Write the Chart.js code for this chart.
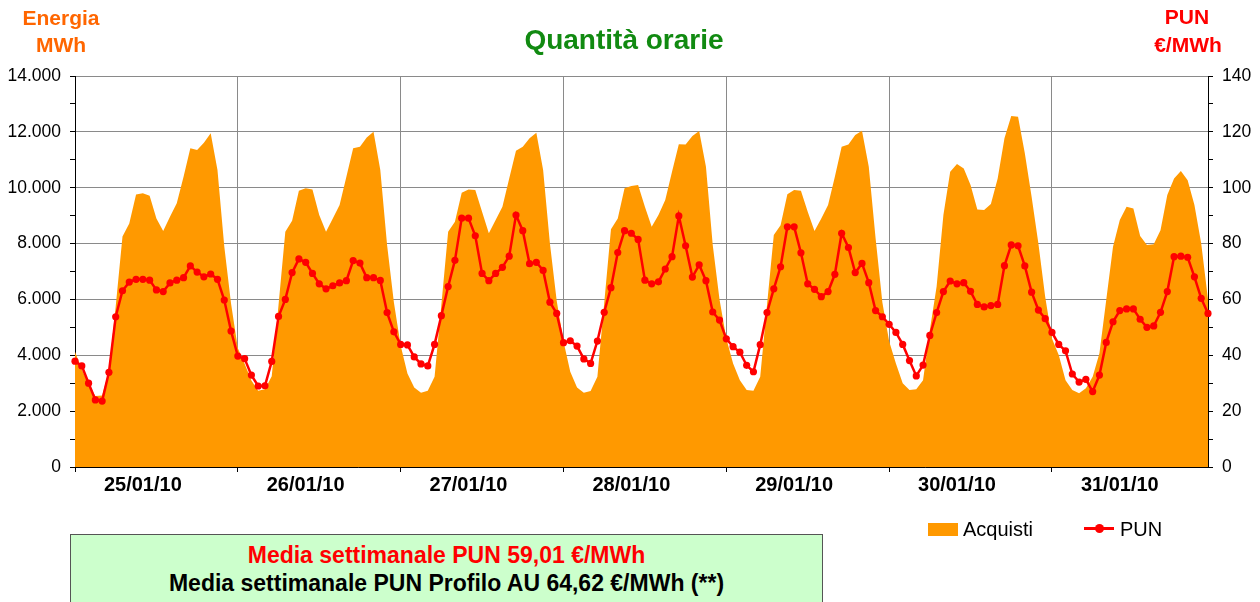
<!DOCTYPE html>
<html>
<head>
<meta charset="utf-8">
<script src="https://cdn.jsdelivr.net/npm/chart.js@4"></script>
<style>
  html, body { margin: 0; padding: 0; background: #fff; }
  #wrap { position: relative; width: 1260px; height: 602px; overflow: hidden; font-family: "Liberation Sans", Arial, sans-serif; }
  canvas { position: absolute; left: 0; top: 0; }
  .t { position: absolute; white-space: nowrap; line-height: 1; }
</style>
</head>
<body>
<div id="wrap">
  <canvas id="c" width="1260" height="602"></canvas>
  <div class="t" style="left:424px;width:400px;top:26px;text-align:center;font-size:28px;font-weight:bold;color:#118A11;">Quantità orarie</div>
  <div class="t" style="left:0;width:122px;top:7px;text-align:center;font-size:21px;font-weight:bold;color:#FF6600;">Energia</div>
  <div class="t" style="left:0;width:122px;top:34px;text-align:center;font-size:21px;font-weight:bold;color:#FF6600;">MWh</div>
  <div class="t" style="left:1127px;width:120px;top:6px;text-align:center;font-size:21px;font-weight:bold;color:#FF0000;">PUN</div>
  <div class="t" style="left:1128px;width:120px;top:34px;text-align:center;font-size:21px;font-weight:bold;color:#FF0000;">€/MWh</div>
  <!-- legend -->
  <div style="position:absolute;left:928px;top:523px;width:30px;height:13px;background:#FF9900;"></div>
  <div class="t" style="left:963px;top:519px;font-size:20px;color:#000;">Acquisti</div>
  <div style="position:absolute;left:1084px;top:527px;width:30px;height:3px;background:#FF0000;"></div>
  <div style="position:absolute;left:1095px;top:524px;width:9px;height:9px;border-radius:50%;background:#FF0000;"></div>
  <div class="t" style="left:1120px;top:519px;font-size:20px;color:#000;">PUN</div>
  <!-- green box -->
  <div style="position:absolute;left:70px;top:534px;width:751px;height:90px;background:#CCFFCC;border:1px solid #555;"></div>
  <div class="t" style="left:70px;width:753px;top:544px;text-align:center;font-size:23px;font-weight:bold;color:#FF0000;">Media settimanale PUN 59,01 €/MWh</div>
  <div class="t" style="left:70px;width:753px;top:572px;text-align:center;font-size:23px;font-weight:bold;color:#000;">Media settimanale PUN Profilo AU 64,62 €/MWh (**)</div>
</div>
<script>
// ---- data ----
const days = ['25/01/10', '26/01/10', '27/01/10', '28/01/10', '29/01/10', '30/01/10', '31/01/10'];
const hours = [1,2,3,4,5,6,7,8,9,10,11,12,13,14,15,16,17,18,19,20,21,22,23,24];

// Acquisti (MWh), hourly, day by day
const acquisti = [
  4130, 3500, 2950, 2540, 2560, 3450, 5750, 8250, 8720, 9760, 9800, 9710, 8900, 8450, 8960, 9440, 10390, 11410, 11350, 11610, 11950, 10630, 7900, 5850,
  4250, 3700, 3100, 2730, 2780, 3250, 5800, 8420, 8820, 9890, 9980, 9940, 9020, 8420, 8900, 9380, 10390, 11410, 11470, 11800, 12000, 10630, 7950, 5900,
  4350, 3350, 2850, 2660, 2730, 3230, 5800, 8420, 8780, 9820, 9940, 9920, 9140, 8370, 8840, 9320, 10330, 11320, 11470, 11770, 11970, 10630, 8000, 5950,
  4500, 3410, 2850, 2660, 2720, 3230, 5850, 8510, 8900, 9980, 10060, 10100, 9320, 8600, 9020, 9560, 10570, 11560, 11550, 11850, 12030, 10750, 7950, 6000,
  4600, 3710, 3110, 2760, 2730, 3230, 5800, 8310, 8660, 9770, 9920, 9890, 9140, 8450, 8900, 9380, 10390, 11470, 11550, 11890, 12040, 10750, 8200, 5900,
  4500, 3710, 3000, 2760, 2780, 3110, 4900, 6460, 9020, 10570, 10850, 10690, 10100, 9220, 9200, 9420, 10330, 11770, 12570, 12540, 11230, 9680, 8000, 6100,
  4600, 4010, 3110, 2760, 2640, 2820, 3230, 4070, 5980, 7890, 8840, 9320, 9260, 8270, 7950, 7980, 8480, 9740, 10330, 10600, 10270, 9380, 8000, 6000
];

// PUN (€/MWh), hourly, day by day
const pun = [
  37.9, 36.2, 30.0, 24.0, 23.6, 33.9, 53.8, 63.1, 66.2, 67.2, 67.2, 66.9, 63.4, 62.8, 65.9, 66.9, 67.8, 72.0, 69.8, 68.1, 69.1, 67.2, 59.8, 48.7,
  39.7, 38.8, 32.9, 29.0, 29.1, 37.8, 53.9, 60.0, 69.6, 74.5, 73.3, 69.3, 65.6, 63.8, 64.9, 65.9, 66.7, 73.9, 73.0, 67.8, 67.8, 66.8, 55.3, 48.4,
  43.9, 43.7, 39.4, 36.9, 36.2, 43.9, 54.2, 64.6, 74.0, 89.1, 89.1, 82.8, 69.3, 66.7, 69.3, 71.5, 75.5, 90.2, 84.6, 72.8, 73.3, 70.4, 59.0, 55.0,
  44.5, 45.2, 43.3, 38.7, 37.1, 45.1, 55.4, 64.2, 76.8, 84.6, 83.7, 81.5, 66.9, 65.6, 66.3, 70.9, 75.3, 89.9, 79.2, 68.0, 72.4, 66.7, 55.5, 52.6,
  45.9, 43.1, 41.1, 36.4, 34.1, 43.8, 55.3, 63.8, 71.7, 86.0, 86.0, 76.7, 65.6, 63.6, 61.0, 62.8, 69.0, 83.7, 78.6, 69.6, 72.9, 66.0, 56.0, 53.8,
  51.1, 48.2, 43.9, 38.1, 32.6, 36.5, 47.1, 55.3, 62.8, 66.6, 65.6, 66.0, 62.9, 58.2, 57.3, 57.8, 58.2, 72.1, 79.5, 79.2, 72.0, 62.6, 56.2, 53.1,
  48.2, 43.9, 41.6, 33.3, 30.4, 31.4, 27.0, 32.9, 44.6, 52.0, 56.0, 56.6, 56.6, 52.9, 50.0, 50.5, 55.4, 62.8, 75.3, 75.5, 75.1, 68.1, 60.4, 55.0
];

const energyMax = 14000, energyStep = 1000, energyLabelStep = 2000;
const punMax = 140, punStep = 10, punLabelStep = 20;

// ---- build ----
const labels = [];
days.forEach(d => hours.forEach(h => labels.push(d + ' h' + h)));
const perDay = hours.length;
const labelHour = 10;

function fmtIt(v) { return String(v).replace(/\B(?=(\d{3})+(?!\d))/g, '.'); }

const FONT = "'Liberation Sans', Arial, sans-serif";
const GRID = '#8A8A8A';
const CLEAR = 'rgba(0,0,0,0)';

new Chart(document.getElementById('c'), {
  type: 'line',
  data: {
    labels: labels,
    datasets: [
      {
        label: 'PUN', data: pun, yAxisID: 'y2', order: 0,
        borderColor: '#FF0000', backgroundColor: '#FF0000', borderWidth: 2.5,
        pointRadius: 3.6, pointBackgroundColor: '#FF0000', pointBorderWidth: 0,
        tension: 0, fill: false
      },
      {
        label: 'Acquisti', data: acquisti, yAxisID: 'y', order: 1,
        borderWidth: 0, borderColor: CLEAR, backgroundColor: '#FF9900',
        pointRadius: 0, tension: 0, fill: 'origin'
      }
    ]
  },
  options: {
    responsive: false, animation: false, devicePixelRatio: 1,
    layout: { padding: { top: 76, left: 0, right: 0, bottom: 0 } },
    plugins: { legend: { display: false }, tooltip: { enabled: false }, title: { display: false } },
    events: [],
    scales: {
      x: {
        type: 'category', offset: false,
        afterFit: s => { s.height = 135; },
        border: { display: true, color: '#000', width: 1 },
        grid: {
          color: ctx => (ctx.index % perDay === 0 ? GRID : CLEAR),
          tickColor: ctx => (ctx.index % perDay === 0 ? '#000' : CLEAR),
          tickLength: 5, lineWidth: 1
        },
        ticks: {
          autoSkip: false, maxRotation: 0, minRotation: 0, padding: 1,
          color: '#000', font: { family: FONT, size: 20, weight: 'bold' },
          callback: (v, i) => (i % perDay === labelHour ? days[Math.floor(i / perDay)] : '')
        }
      },
      y: {
        position: 'left', min: 0, max: energyMax,
        afterFit: s => { s.width = 75; },
        border: { display: true, color: '#000', width: 1 },
        grid: {
          color: ctx => (ctx.tick && ctx.tick.value % energyLabelStep === 0 ? GRID : CLEAR),
          tickColor: '#000', tickLength: 5, lineWidth: 1
        },
        ticks: {
          stepSize: energyStep, padding: 9, color: '#000',
          font: { family: FONT, size: 17.5 },
          callback: v => (v % energyLabelStep === 0 ? fmtIt(v) : '')
        }
      },
      y2: {
        position: 'right', min: 0, max: punMax,
        afterFit: s => { s.width = 52; },
        border: { display: true, color: '#000', width: 1 },
        grid: { drawOnChartArea: false, tickColor: '#000', tickLength: 5 },
        ticks: {
          stepSize: punStep, padding: 9, color: '#000',
          font: { family: FONT, size: 17.5 },
          callback: v => (v % punLabelStep === 0 ? String(v) : '')
        }
      }
    }
  }
});
</script>
</body>
</html>
